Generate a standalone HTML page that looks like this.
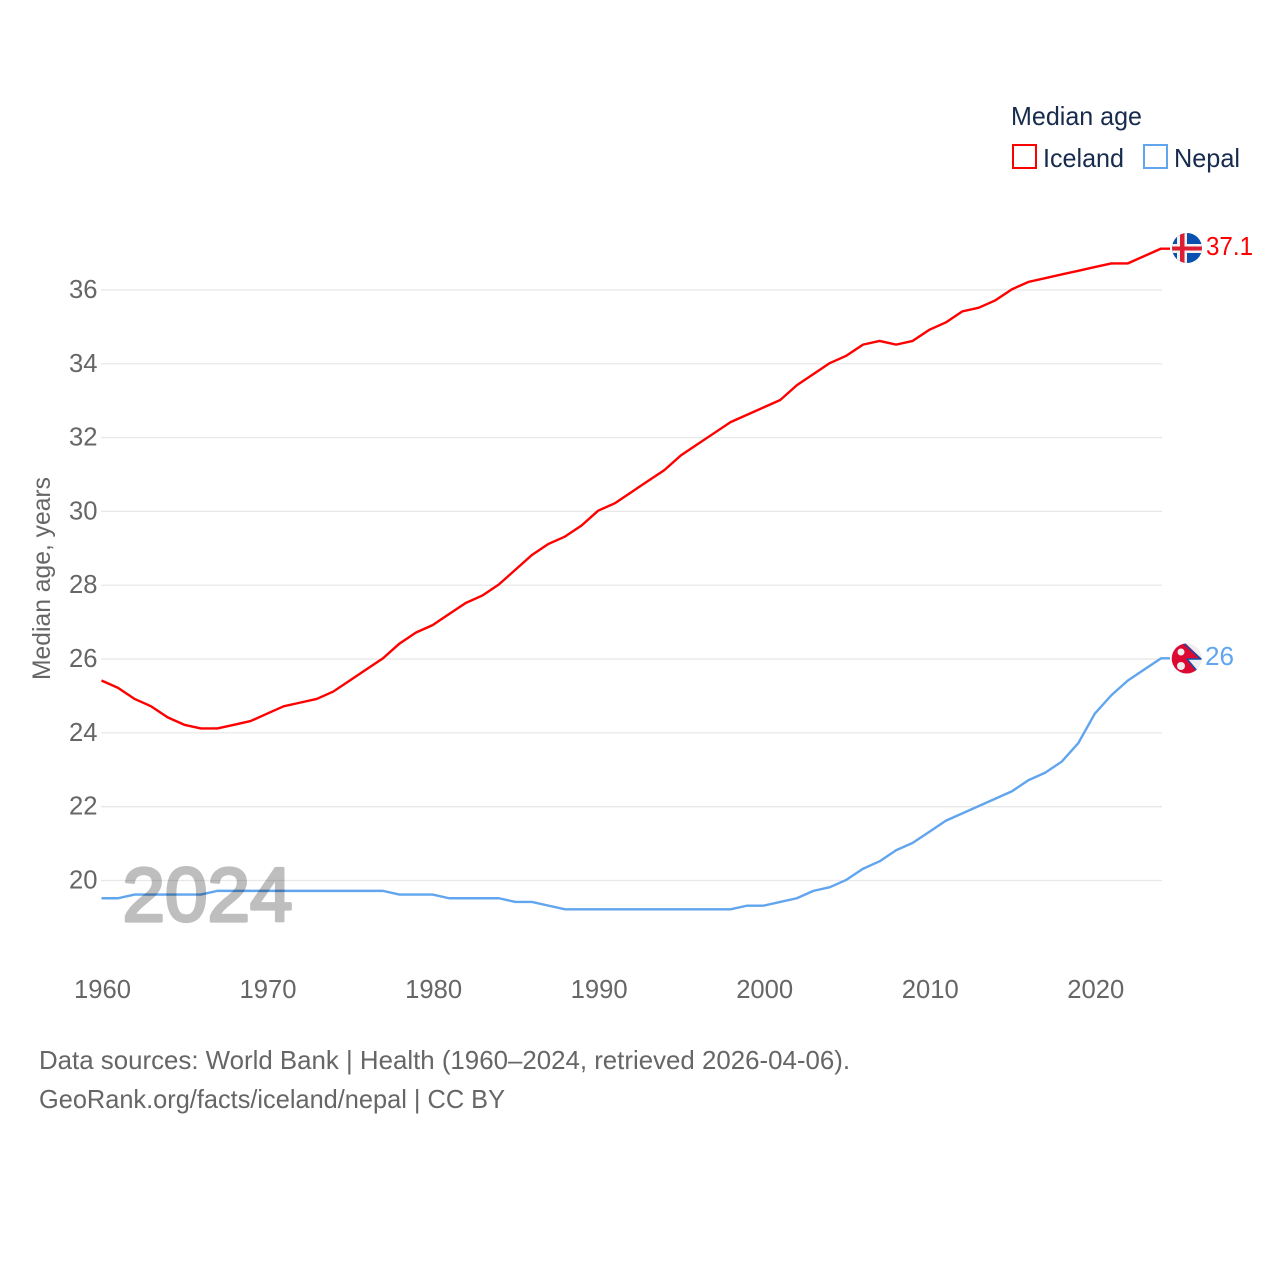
<!DOCTYPE html>
<html lang="en">
<head>
<meta charset="utf-8">
<title>Median age: Iceland and Nepal</title>
<style>
html,body{margin:0;padding:0;background:#fff;}
svg{display:block;font-family:"Liberation Sans",sans-serif;}
</style>
</head>
<body>
<svg id="chart" xmlns="http://www.w3.org/2000/svg" width="1280" height="1280" viewBox="0 0 1280 1280">
  <rect width="1280" height="1280" fill="#fff"/>
  <defs>
    <clipPath id="flag-clip-a"><circle cx="1187" cy="248" r="15"/></clipPath>
    <clipPath id="flag-clip-b"><circle cx="1186.7" cy="658.5" r="15"/></clipPath>
  </defs>
  <g id="grid"></g>
  <g id="yticks"></g>
  <g id="xticks"></g>
  <g id="lines"></g>

  <text transform="translate(50,680) rotate(-90)" font-size="25" fill="#666" textLength="203" lengthAdjust="spacingAndGlyphs">Median age, years</text>

  <text x="122.5" y="921" font-size="76" fill="#000" stroke="#000" stroke-width="3.2" stroke-linejoin="round" opacity="0.25" textLength="170" lengthAdjust="spacingAndGlyphs">2024</text>

  <g>
    <text x="1011" y="125" font-size="26" fill="#172b4d" textLength="131" lengthAdjust="spacingAndGlyphs">Median age</text>
    <g>
      <rect x="1013" y="145" width="23" height="23" fill="#fff" stroke="#ff0000" stroke-width="2"/>
      <text x="1043" y="167" font-size="26" fill="#172b4d" textLength="81" lengthAdjust="spacingAndGlyphs">Iceland</text>
    </g>
    <g>
      <rect x="1144" y="145" width="23" height="23" fill="#fff" stroke="#60a5ee" stroke-width="2"/>
      <text x="1174" y="167" font-size="26" fill="#172b4d" textLength="66" lengthAdjust="spacingAndGlyphs">Nepal</text>
    </g>
  </g>

  <g clip-path="url(#flag-clip-a)">
    <rect x="1170" y="232" width="34" height="32" fill="#0b50ae"/>
    <rect x="1170" y="244" width="34" height="9" fill="#f2f2f2"/>
    <rect x="1177" y="232" width="10" height="32" fill="#f2f2f2"/>
    <rect x="1170" y="246.5" width="34" height="4" fill="#dc1e35"/>
    <rect x="1180" y="232" width="4.5" height="32" fill="#dc1e35"/>
  </g>
  <g clip-path="url(#flag-clip-b)">
    <rect x="1170" y="642" width="34" height="34" fill="#eeeeee"/>
    <path d="M1170 641 L1183 641 L1202 659 L1187 659 L1200 675 L1170 675 Z" fill="#dc0a32"/>
    <path d="M1183 643 L1201 659 L1187 659" fill="none" stroke="#0b50ae" stroke-width="1.4"/>
    <path d="M1187 659 L1198 672" fill="none" stroke="#0b50ae" stroke-width="1.4"/>
    <circle cx="1181" cy="652" r="3.5" fill="#eeeeee"/>
    <circle cx="1181" cy="666" r="4" fill="#eeeeee"/>
  </g>

  <text x="1206" y="255" font-size="26" fill="#ff0000" textLength="47" lengthAdjust="spacingAndGlyphs">37.1</text>
  <text x="1205" y="665" font-size="26" fill="#60a5ee" textLength="29" lengthAdjust="spacingAndGlyphs">26</text>

  <text x="39" y="1069" font-size="26" fill="#666" textLength="811" lengthAdjust="spacingAndGlyphs">Data sources: World Bank | Health (1960–2024, retrieved 2026-04-06).</text>
  <text x="39" y="1108" font-size="26" fill="#666" textLength="466" lengthAdjust="spacingAndGlyphs">GeoRank.org/facts/iceland/nepal | CC BY</text>
</svg>
<script>
const years = [1960,1961,1962,1963,1964,1965,1966,1967,1968,1969,1970,1971,1972,1973,1974,1975,1976,1977,1978,1979,1980,1981,1982,1983,1984,1985,1986,1987,1988,1989,1990,1991,1992,1993,1994,1995,1996,1997,1998,1999,2000,2001,2002,2003,2004,2005,2006,2007,2008,2009,2010,2011,2012,2013,2014,2015,2016,2017,2018,2019,2020,2021,2022,2023,2024];
const icelandValues = [25.4,25.2,24.9,24.7,24.4,24.2,24.1,24.1,24.2,24.3,24.5,24.7,24.8,24.9,25.1,25.4,25.7,26.0,26.4,26.7,26.9,27.2,27.5,27.7,28.0,28.4,28.8,29.1,29.3,29.6,30.0,30.2,30.5,30.8,31.1,31.5,31.8,32.1,32.4,32.6,32.8,33.0,33.4,33.7,34.0,34.2,34.5,34.6,34.5,34.6,34.9,35.1,35.4,35.5,35.7,36.0,36.2,36.3,36.4,36.5,36.6,36.7,36.7,36.9,37.1];
const nepalValues = [19.5,19.5,19.6,19.6,19.6,19.6,19.6,19.7,19.7,19.7,19.7,19.7,19.7,19.7,19.7,19.7,19.7,19.7,19.6,19.6,19.6,19.5,19.5,19.5,19.5,19.4,19.4,19.3,19.2,19.2,19.2,19.2,19.2,19.2,19.2,19.2,19.2,19.2,19.2,19.3,19.3,19.4,19.5,19.7,19.8,20.0,20.3,20.5,20.8,21.0,21.3,21.6,21.8,22.0,22.2,22.4,22.7,22.9,23.2,23.7,24.5,25.0,25.4,25.7,26.0];
const yTickValues = [20,22,24,26,28,30,32,34,36];
const xTickValues = [1960,1970,1980,1990,2000,2010,2020];

const NS = 'http://www.w3.org/2000/svg';
function xScale(year){ return 101.5 + (year - 1960) * (1161 - 101.5) / 64; }
function yScale(v){ return 880.5 - (v - 20) * 36.91; }

const gridGroup = document.getElementById('grid');
const yGroup = document.getElementById('yticks');
const xGroup = document.getElementById('xticks');
const lineGroup = document.getElementById('lines');

yTickValues.forEach(function(v){
  const line = document.createElementNS(NS, 'line');
  
  
  line.setAttribute('x1', 101);
  line.setAttribute('x2', 1162);
  line.setAttribute('y1', yScale(v));
  line.setAttribute('y2', yScale(v));
  line.setAttribute('stroke', '#e8e8e8');
  line.setAttribute('stroke-width', 1.3);
  gridGroup.appendChild(line);

  const label = document.createElementNS(NS, 'text');
  
  
  label.setAttribute('x', 69);
  label.setAttribute('y', yScale(v) + 8);
  label.setAttribute('font-size', 26);
  label.setAttribute('fill', '#666');
  label.setAttribute('textLength', 28.5);
  label.setAttribute('lengthAdjust', 'spacingAndGlyphs');
  label.textContent = String(v);
  yGroup.appendChild(label);
});

xTickValues.forEach(function(y){
  const label = document.createElementNS(NS, 'text');
  
  
  label.setAttribute('x', xScale(y) - 27.5);
  label.setAttribute('y', 998);
  label.setAttribute('font-size', 26);
  label.setAttribute('fill', '#666');
  label.setAttribute('textLength', 57);
  label.setAttribute('lengthAdjust', 'spacingAndGlyphs');
  label.textContent = String(y);
  xGroup.appendChild(label);
});

function drawSeries(values, color, name){
  const pts = values.map(function(v, i){ return xScale(years[i]).toFixed(2) + ',' + (yScale(v) - 0.7).toFixed(2); });
  const last = values[values.length - 1];
  pts.push('1170,' + (yScale(last) - 0.7).toFixed(2));
  const line = document.createElementNS(NS, 'polyline');
  
  
  line.setAttribute('points', pts.join(' '));
  line.setAttribute('fill', 'none');
  line.setAttribute('stroke', color);
  line.setAttribute('stroke-width', 2.4);
  line.setAttribute('stroke-linejoin', 'round');
  lineGroup.appendChild(line);
}
drawSeries(nepalValues, '#60a5ee', 'nepal-line');
drawSeries(icelandValues, '#ff0000', 'iceland-line');
</script>
</body>
</html>
